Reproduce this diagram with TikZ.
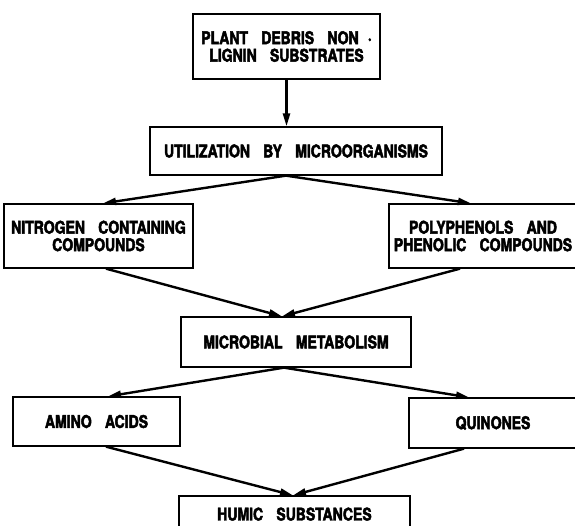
\documentclass[tikz,border=0pt]{standalone}
\usepackage{fontspec}
\setmainfont[FakeStretch=0.8,WordSpace=3.4,BoldFeatures={FakeBold=2.6}]{TeX Gyre Heros}
\usetikzlibrary{arrows.meta}
\begin{document}
\begin{tikzpicture}[x=1pt,y=-1pt,
  box/.style={draw=black,line width=1.3pt,rectangle,inner sep=0pt,align=center,
    font=\fontsize{17.5}{17.5}\selectfont\bfseries},
  conn/.style={line width=2.4pt,-{Triangle[length=13pt,width=7pt]}}]
\useasboundingbox (0,0) rectangle (575,525);
\begin{scope}
\clip (0,0) rectangle (575,525);
\node[box,minimum width=187pt,minimum height=65pt] (b1) at (286.5,46.5) {PLANT DEBRIS NON\hspace{-4pt} \textperiodcentered\\LIGNIN SUBSTRATES};
\node[box,minimum width=292pt,minimum height=48pt] (b2) at (296,151) {UTILIZATION BY MICROORGANISMS};
\node[box,minimum width=189pt,minimum height=64pt] (n) at (98.5,236) {NITROGEN CONTAINING\\COMPOUNDS};
\node[box,minimum width=188pt,minimum height=64pt] (p) at (483,236) {POLYPHENOLS AND\\PHENOLIC COMPOUNDS};
\node[box,minimum width=230pt,minimum height=50pt] (m) at (296,342) {MICROBIAL METABOLISM};
\node[box,minimum width=167pt,minimum height=49pt] (a) at (96.5,421.5) {AMINO ACIDS};
\node[box,minimum width=168pt,minimum height=50pt] (q) at (493,423) {QUINONES};
\node[box,minimum width=231pt,minimum height=44pt,text depth=0pt] (h) at (294.5,518) {\raisebox{8pt}{HUMIC SUBSTANCES}};
\draw[conn] (b1.south) -- (b1.south |- b2.north);
\draw[conn] ([xshift=-10pt]b2.south) -- ([xshift=4.5pt]n.north);
\draw[conn] ([xshift=-10pt]b2.south) -- ([xshift=-12pt]p.north);
\draw[conn] ([xshift=7.5pt]n.south) -- ([xshift=-14pt]m.north);
\draw[conn] ([xshift=-23pt]p.south) -- ([xshift=-14pt]m.north);
\draw[conn] ([xshift=-12pt]m.south) -- ([xshift=11.5pt]a.north);
\draw[conn] ([xshift=-12pt]m.south) -- ([xshift=-24pt]q.north);
\draw[conn] ([xshift=9.5pt]a.south) -- ([xshift=-1.5pt]h.north);
\draw[conn] ([xshift=-29pt]q.south) -- ([xshift=-1.5pt]h.north);
\end{scope}
\end{tikzpicture}
\end{document}
